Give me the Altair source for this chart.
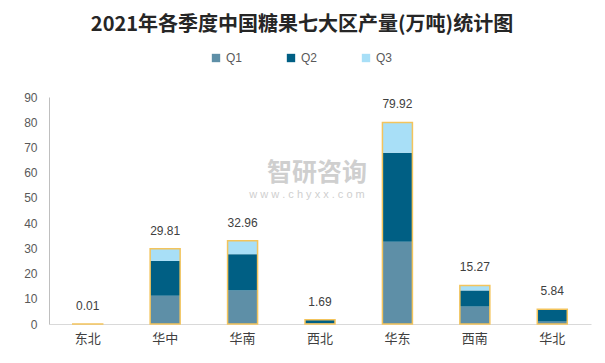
import altair as alt
import pandas as pd

regions = ["东北", "华中", "华南", "西北", "华东", "西南", "华北"]
q1 = [0.01, 11.2, 13.3, 0.3, 32.6, 6.9, 0.95]
q2 = [0.0, 13.8, 14.4, 1.39, 35.3, 6.4, 4.89]
q3 = [0.0, 4.81, 5.26, 0.0, 12.02, 1.97, 0.0]
totals = [0.01, 29.81, 32.96, 1.69, 79.92, 15.27, 5.84]
series = ["Q1", "Q2", "Q3"]
colors = ["#5e8fa7", "#005f84", "#a8dff7"]
yticks = [0, 10, 20, 30, 40, 50, 60, 70, 80, 90]

rows = []
for i, r in enumerate(regions):
    for k, (s, vals) in enumerate(zip(series, (q1, q2, q3))):
        rows.append({"region": r, "series": s, "value": vals[i], "ord": k})
df = pd.DataFrame(rows)
tot = pd.DataFrame({"region": regions, "total": totals})

FONT = "Noto Sans CJK SC"

x = alt.X(
    "region:N",
    sort=regions,
    scale=alt.Scale(paddingInner=0, paddingOuter=0),
    axis=alt.Axis(
        title=None, labelAngle=0, labelFontSize=13, labelColor="#404040",
        labelPadding=8, ticks=False, domainColor="#d9d9d9", labelFont=FONT,
    ),
)
yscale = alt.Scale(domain=[0, 90], nice=False)
yaxis = alt.Axis(
    title=None, values=yticks, grid=False, ticks=False,
    domainColor="#bfbfbf", labelColor="#595959", labelFontSize=12,
    labelPadding=12, labelFont="Liberation Sans", labelOverlap=False,
    labelFlush=False,
)

bars = alt.Chart(df).mark_bar(size=30).encode(
    x=x,
    y=alt.Y("value:Q", stack="zero", scale=yscale, axis=yaxis),
    color=alt.Color(
        "series:N",
        scale=alt.Scale(domain=series, range=colors),
        legend=alt.Legend(
            title=None, orient="none", legendX=161, legendY=-45,
            direction="horizontal", symbolType="square", symbolSize=70,
            labelFontSize=12, labelColor="#595959", labelFont="Liberation Sans",
            columnPadding=42, symbolStrokeWidth=0,
        ),
    ),
    order=alt.Order("ord:Q"),
)

outline = alt.Chart(tot).mark_bar(
    size=30, filled=False, color="#f3c45c", strokeWidth=1.5
).encode(x=x, y=alt.Y("total:Q", scale=yscale, axis=yaxis))

labels = alt.Chart(tot).mark_text(
    dy=-18, fontSize=12, color="#404040", font="Liberation Sans"
).encode(x=x, y=alt.Y("total:Q", scale=yscale, axis=yaxis),
         text=alt.Text("total:Q", format=".2f"))

wm1 = alt.Chart(pd.DataFrame({"t": ["智研咨询"]})).mark_text(
    fontSize=25, color="#cfcfcf", font=FONT, fontWeight="bold"
).encode(text="t:N", x=alt.value(268), y=alt.value(76))
wm2 = alt.Chart(pd.DataFrame({"t": ["w w w . c h y x x . c o m"]})).mark_text(
    fontSize=11, color="#cfcfcf", font="Liberation Sans"
).encode(text="t:N", x=alt.value(258), y=alt.value(98))

chart = alt.layer(wm1, wm2, bars, outline, labels).properties(
    width=542,
    height=227,
    padding={"left": 41, "top": 89, "right": 6, "bottom": 31},
    autosize=alt.AutoSizeParams(type="none"),
    title=alt.TitleParams(
        "2021年各季度中国糖果七大区产量(万吨)统计图",
        fontSize=20, font=FONT, fontWeight="bold", color="#262626",
        anchor="middle", dx=-18, offset=17,
    ),
).configure(
    background="white",
    view=alt.ViewConfig(strokeWidth=0, strokeOpacity=0, stroke="transparent"),
)

chart.save("out.html", embed_options={"renderer": "svg", "actions": False})
